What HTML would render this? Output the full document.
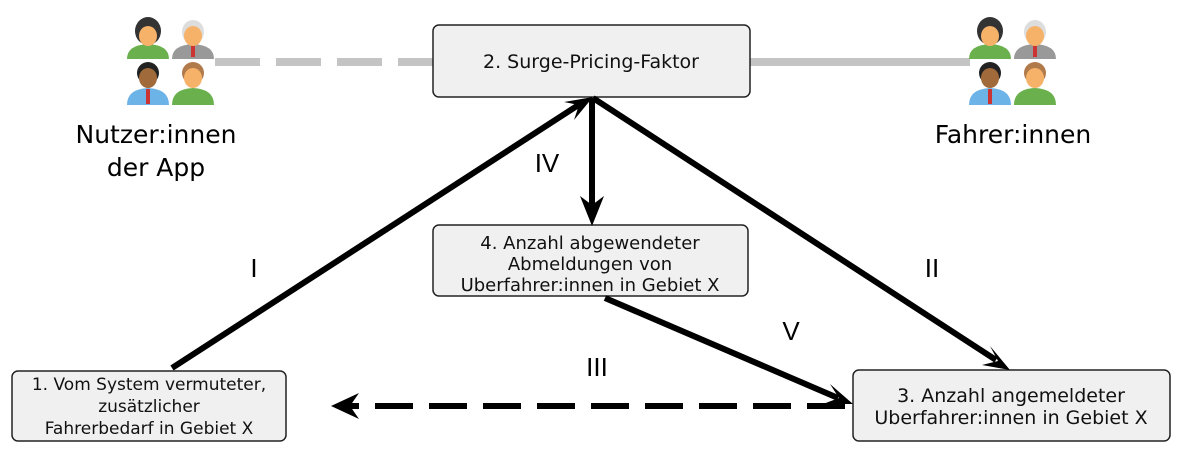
<!DOCTYPE html>
<html><head><meta charset="utf-8"><style>
html,body{margin:0;padding:0;background:#fff;}
svg{display:block;font-family:"Liberation Sans","DejaVu Sans",sans-serif;}
</style></head><body>
<svg width="1199" height="474" viewBox="0 0 1199 474" xmlns="http://www.w3.org/2000/svg">
<defs>
<g id="grp">
  <path d="M0,42 Q0,28 21,27 Q42,28 42,42 Z" fill="#6ab04c"/>
  <ellipse cx="21" cy="14" rx="13" ry="14" fill="#333"/>
  <ellipse cx="21" cy="19" rx="9" ry="10" fill="#f7b26a"/>
  <path d="M45,42 Q45,28 66,27 Q87,28 87,42 Z" fill="#999"/>
  <rect x="64" y="28" width="4" height="12" fill="#c33"/>
  <ellipse cx="66" cy="15" rx="11" ry="12" fill="#ddd"/>
  <ellipse cx="66" cy="19" rx="9" ry="10" fill="#f7b26a"/>
  <path d="M0,88 Q0,72 21,71 Q42,72 42,88 Z" fill="#6cb3e8"/>
  <rect x="19" y="72" width="4" height="15" fill="#c33"/>
  <ellipse cx="21" cy="56" rx="11" ry="11" fill="#222"/>
  <ellipse cx="21" cy="61" rx="9" ry="10" fill="#a06a3a"/>
  <path d="M45,88 Q45,72 66,71 Q87,72 87,88 Z" fill="#6ab04c"/>
  <ellipse cx="66" cy="56" rx="11" ry="11" fill="#b07a4a"/>
  <ellipse cx="66" cy="61" rx="9" ry="10" fill="#f7b26a"/>
</g>
</defs>
<line x1="215" y1="62" x2="433" y2="62" stroke="#c4c4c4" stroke-width="8" stroke-dasharray="45,16"/>
<line x1="750" y1="62" x2="970" y2="62" stroke="#c4c4c4" stroke-width="8"/>
<use href="#grp" x="127" y="17"/>
<use href="#grp" x="969" y="17"/>
<g font-size="25" text-anchor="middle" font-family="DejaVu Sans, sans-serif">
<text x="156" y="143">Nutzer:innen</text>
<text x="156" y="176">der App</text>
<text x="1013" y="143">Fahrer:innen</text>
</g>

<g fill="#f1f0f1" stroke="#222" stroke-width="1.5">
<rect x="433" y="25" width="317" height="72" rx="6"/>
<rect x="433" y="225" width="315" height="71" rx="6"/>
<rect x="12" y="371" width="274" height="70" rx="6"/>
<rect x="853" y="370" width="317" height="71" rx="6"/>
</g>
<g text-anchor="middle" fill="#111" font-family="DejaVu Sans, sans-serif">
<text x="591" y="68" font-size="19">2. Surge-Pricing-Faktor</text>
<g font-size="18">
<text x="590" y="249">4. Anzahl abgewendeter</text>
<text x="590" y="270">Abmeldungen von</text>
<text x="590" y="291">Uberfahrer:innen in Gebiet X</text>
</g>
<g font-size="17">
<text x="149" y="390">1. Vom System vermuteter,</text>
<text x="149" y="412">zusätzlicher</text>
<text x="149" y="434">Fahrerbedarf in Gebiet X</text>
</g>
<g font-size="19">
<text x="1011" y="402">3. Anzahl angemeldeter</text>
<text x="1011" y="424">Uberfahrer:innen in Gebiet X</text>
</g>
</g>

<g stroke="#000" stroke-width="6" fill="none">
<line x1="172" y1="368" x2="580" y2="104"/>
<line x1="593" y1="98" x2="996" y2="360"/>
<line x1="592" y1="98" x2="592" y2="210"/>
<line x1="605" y1="298" x2="838" y2="398"/>
<line x1="845" y1="406" x2="345" y2="406" stroke-dasharray="38,16"/>
</g>
<g fill="#000">
<polygon points="593,97 564,102 579,105 574,120"/>
<polygon points="1010,370 982,365 998,361 990,346"/>
<polygon points="592,226 580,196 592,205 604,196"/>
<polygon points="853,404 823,404 839,398 830,384"/>
<polygon points="331,406 359,393 350,406 359,419"/>
</g>
<g font-size="26" fill="#000" text-anchor="middle">
<text x="254" y="277">I</text>
<text x="932" y="277">II</text>
<text x="597" y="376">III</text>
<text x="547" y="172">IV</text>
<text x="791" y="340">V</text>
</g>
</svg>
</body></html>
